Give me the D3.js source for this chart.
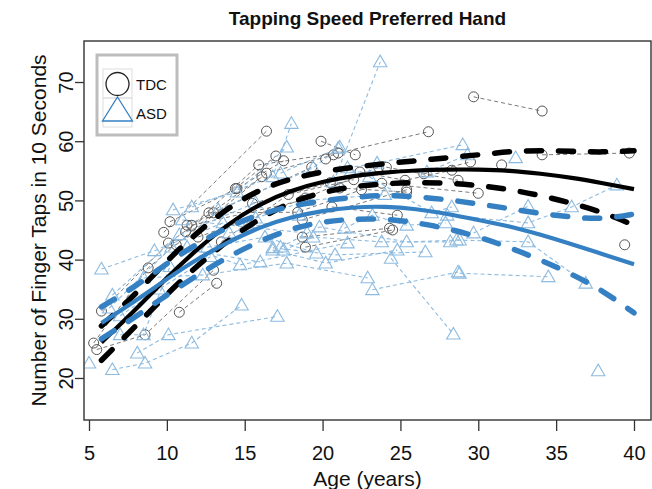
<!DOCTYPE html>
<html><head><meta charset="utf-8">
<script src="https://cdn.jsdelivr.net/npm/d3@7"></script>
<style>
html,body{margin:0;padding:0;background:#fff;}
svg{display:block;font-family:"Liberation Sans",Arial,Helvetica,sans-serif;}
</style></head>
<body><svg id="chart" width="652" height="489"></svg>
<script>
// ---------- DATA ----------
const title = "Tapping Speed Preferred Hand";
const xLabel = "Age (years)";
const yLabel = "Number of Finger Taps in 10 Seconds";
const xTicks = [5, 10, 15, 20, 25, 30, 35, 40];
const yTicks = [20, 30, 40, 50, 60, 70];
const groups = ["TDC", "ASD"];

// individual trajectories: each subject = list of [age, taps]
const tdcSubjects = [
  [[5.3,25.9],[8.8,38.6],[13.0,47.9]],
  [[5.5,24.8],[8.6,27.3],[13.0,38.2]],
  [[5.8,31.3],[10.1,42.8],[16.1,54.0]],
  [[10.8,31.1],[13.2,36.0]],
  [[9.8,44.6],[16.4,61.7]],
  [[10.2,46.4],[14.5,52.0],[17.5,56.7]],
  [[10.6,42.5],[16.4,54.6],[20.7,57.7]],
  [[11.2,44.7],[15.9,56.0],[21.0,58.0],[26.8,61.6]],
  [[11.3,45.8],[19.3,55.6]],
  [[12.0,43.8],[18.9,50.4],[23.6,55.6]],
  [[11.6,45.8],[18.7,50.0]],
  [[12.7,47.9],[18.4,48.0],[22.5,51.8]],
  [[19.9,60.0],[22.1,57.7]],
  [[22.4,54.8],[25.3,53.4],[28.3,55.1]],
  [[24.1,55.6],[28.7,53.4]],
  [[20.6,48.9],[24.8,47.5]],
  [[18.7,43.8],[24.3,45.3]],
  [[18.9,42.1],[24.5,45.0]],
  [[21.1,52.1],[25.4,51.4]],
  [[18.7,46.7],[25.4,51.8]],
  [[23.8,52.9],[30.0,51.2]],
  [[29.7,67.5],[34.1,65.1]],
  [[34.1,57.7],[39.7,58.0]],
  [[31.5,56.0]],
  [[39.4,42.5]],
  [[20.2,57.0]],
  [[14.4,52.0],[17.0,57.5]],
  [[15.5,49.5],[20.5,53.0]],
  [[13.5,43.0],[17.8,51.0],[22.0,53.5]],
  [[26.5,54.5],[29.5,56.5]]
];
const asdSubjects = [
  [[5.0,22.5]],
  [[6.5,21.4],[8.6,22.5],[11.6,25.9],[14.8,32.3]],
  [[8.1,24.2],[10.1,27.3],[17.1,30.4]],
  [[5.8,38.4],[9.2,41.5],[13.6,46.2]],
  [[7.0,27.3],[8.5,27.3],[10.2,38.8]],
  [[6.3,31.8],[10.3,42.1],[16.0,39.6]],
  [[6.5,34.0],[10.8,44.2],[15.7,49.6]],
  [[8.5,36.9],[12.3,37.4],[17.7,39.4],[22.9,36.9]],
  [[10.4,48.4],[14.5,51.4],[17.7,59.0]],
  [[11.6,48.9],[16.8,54.0],[18.0,63.0]],
  [[11.0,46.7],[15.1,45.5],[19.0,44.5]],
  [[13.3,48.4],[19.4,55.5],[21.1,59.0]],
  [[12.6,42.1],[16.3,43.8],[19.6,41.1]],
  [[11.3,42.1],[14.7,39.1],[21.6,42.8]],
  [[16.8,41.6],[20.2,39.4],[24.8,41.6]],
  [[16.8,42.0],[20.8,40.8],[26.6,41.3]],
  [[17.5,41.6],[19.4,43.8],[23.8,43.0],[28.2,43.0]],
  [[17.3,42.1],[19.8,45.5],[25.4,43.0],[28.8,43.3]],
  [[23.2,34.9],[28.7,37.9]],
  [[24.4,40.2],[28.4,27.4]],
  [[20.7,53.1],[23.7,73.4]],
  [[21.4,45.3],[23.2,47.5],[25.4,45.8],[27.9,46.2]],
  [[21.8,54.8],[26.7,54.8],[29.3,57.7]],
  [[23.0,54.0],[27.0,47.9],[28.3,48.9]],
  [[21.6,55.5],[23.5,56.3],[29.0,59.4]],
  [[28.0,47.5],[33.2,46.2],[36.0,48.9],[38.9,52.6]],
  [[29.7,44.5],[33.2,49.0]],
  [[28.6,43.3],[33.2,43.0],[36.9,36.0]],
  [[28.8,37.7],[34.5,37.1]],
  [[32.4,57.2]],
  [[37.7,21.2]],
  [[17.3,54.6],[21.0,58.8]],
  [[15.7,47.0],[19.0,50.0],[24.0,51.0]],
  [[7.0,30.5],[9.5,35.0],[12.8,40.5]],
  [[14.0,44.5],[18.5,47.5]]
];

// fitted curves (age grid, mean and confidence bounds)
const curveAges = [5.8, 8, 10, 12, 14, 16, 18, 20, 22, 24, 26, 28, 30, 32, 34, 36, 38, 40];
const tdcMean  = [26.0, 31.6, 36.9, 41.8, 46.0, 49.3, 51.6, 53.1, 54.1, 54.7, 55.05, 55.2, 55.2, 55.0, 54.5, 53.8, 52.9, 51.9];
const tdcUpper = [28.8, 34.3, 39.7, 44.6, 48.7, 51.7, 53.6, 54.8, 55.6, 56.2, 56.7, 57.2, 57.7, 58.2, 58.4, 58.3, 58.2, 58.4];
const tdcLower = [23.0, 28.8, 34.1, 39.0, 43.3, 46.9, 49.6, 51.3, 52.3, 52.8, 53.0, 52.9, 52.5, 51.8, 50.8, 49.5, 47.9, 45.8];
const asdMean  = [29.3, 33.1, 36.7, 40.1, 43.0, 45.4, 47.1, 48.2, 48.8, 48.9, 48.5, 47.7, 46.7, 45.6, 44.2, 42.6, 40.9, 39.2];
const asdUpper = [32.0, 35.6, 39.3, 42.7, 45.5, 47.6, 49.0, 49.9, 50.5, 50.8, 50.6, 50.1, 49.4, 48.6, 47.8, 47.2, 47.0, 47.7];
const asdLower = [26.6, 30.4, 34.0, 37.4, 40.5, 43.1, 45.1, 46.3, 46.8, 46.8, 46.2, 45.2, 43.8, 42.0, 39.9, 37.5, 34.6, 31.0];

// ---------- CHART ----------
const svg = d3.select("#chart");
const plot = {left: 84, right: 651, top: 41, bottom: 420};
const x = d3.scaleLinear().domain([4.679, 41.092]).range([plot.left, plot.right]);
const y = d3.scaleLinear().domain([13.07, 76.93]).range([419, 41]);

const darkBlue = "#3480c2", lightBlue = "#8dbbe0", circleCol = "#555", grayLine = "#7a7a7a";
const FONT = '"Liberation Sans",Arial,Helvetica,sans-serif';

svg.append("clipPath").attr("id","clip").append("rect")
  .attr("x", plot.left).attr("y", plot.top)
  .attr("width", plot.right - plot.left).attr("height", plot.bottom - plot.top);

const g = svg.append("g").attr("clip-path","url(#clip)");
const line = d3.line().x(d => x(d[0])).y(d => y(d[1]));

// individual trajectories
g.selectAll("path.tdcInd").data(tdcSubjects.filter(s => s.length > 1)).join("path")
  .attr("d", line).attr("fill","none").attr("stroke", grayLine)
  .attr("stroke-width", 1).attr("stroke-dasharray","4,3");
g.selectAll("path.asdInd").data(asdSubjects.filter(s => s.length > 1)).join("path")
  .attr("d", line).attr("fill","none").attr("stroke", lightBlue)
  .attr("stroke-width", 1.1).attr("stroke-dasharray","4,3");

// points
g.selectAll("circle.tdc").data(tdcSubjects.flat()).join("circle")
  .attr("cx", d => x(d[0])).attr("cy", d => y(d[1])).attr("r", 5)
  .attr("fill","none").attr("stroke", circleCol).attr("stroke-width", 1);
const tri = d3.symbol().type(d3.symbolTriangle).size(78);
g.selectAll("path.asd").data(asdSubjects.flat()).join("path")
  .attr("d", tri).attr("transform", d => `translate(${x(d[0])},${y(d[1])+1})`)
  .attr("fill","none").attr("stroke", lightBlue).attr("stroke-width", 1.1);

// fitted curves
const curveLine = d3.line().x(d => x(d[0])).y(d => y(d[1])).curve(d3.curveNatural);
function drawCurve(vals, color, dashed) {
  const pts = curveAges.map((a, i) => [a, vals[i]]);
  g.append("path").attr("d", curveLine(pts)).attr("fill","none")
    .attr("stroke", color)
    .attr("stroke-width", dashed ? 5.5 : 4.2)
    .attr("stroke-linecap", dashed ? "round" : "butt")
    .attr("stroke-dasharray", dashed ? "15,17" : null);
}
drawCurve(tdcUpper, "#000", true);
drawCurve(tdcLower, "#000", true);
drawCurve(tdcMean, "#000", false);
drawCurve(asdUpper, darkBlue, true);
drawCurve(asdLower, darkBlue, true);
drawCurve(asdMean, darkBlue, false);

// frame
svg.append("rect").attr("x", plot.left).attr("y", plot.top)
  .attr("width", plot.right - plot.left).attr("height", plot.bottom - plot.top)
  .attr("fill","none").attr("stroke","#333").attr("stroke-width",1.4);

// axes
const xAxis = svg.append("g").attr("transform", `translate(0,${plot.bottom})`)
  .call(d3.axisBottom(x).tickValues(xTicks).tickSize(11).tickPadding(8).tickFormat(d3.format("d")));
xAxis.select(".domain").remove();
xAxis.selectAll("line").attr("stroke","#333").attr("stroke-width",1.3);
xAxis.selectAll("text").attr("font-size", 20).attr("fill","#111")
  .attr("font-family", FONT).attr("y", null).attr("dy", null)
  .attr("transform", "translate(0,40)");

const yAxis = svg.append("g").attr("transform", `translate(${plot.left},0)`)
  .call(d3.axisLeft(y).tickValues(yTicks).tickSize(9).tickFormat(d3.format("d")));
yAxis.select(".domain").remove();
yAxis.selectAll("line").attr("stroke","#333").attr("stroke-width",1.3);
yAxis.selectAll("text")
  .attr("font-size", 20).attr("fill","#111")
  .attr("font-family", FONT)
  .attr("x", null).attr("dy", null)
  .attr("text-anchor","middle")
  .attr("transform", "translate(-11,0) rotate(-90)");

// titles
svg.append("text").attr("x", (plot.left + plot.right)/2).attr("y", 25)
  .attr("text-anchor","middle").attr("font-size", 19).attr("font-weight","bold")
  .attr("fill","#111").text(title);
svg.append("text").attr("x", (plot.left + plot.right)/2).attr("y", 486)
  .attr("text-anchor","middle").attr("font-size", 21).attr("fill","#111").text(xLabel);
svg.append("text").attr("transform", `translate(46,${(plot.top+plot.bottom)/2}) rotate(-90)`)
  .attr("text-anchor","middle").attr("font-size", 21).attr("fill","#111").text(yLabel);

// legend
const lg = svg.append("g");
lg.append("rect").attr("x", 97).attr("y", 55).attr("width", 80).attr("height", 80)
  .attr("fill","#fff").attr("stroke","#bdbdbd").attr("stroke-width", 3);
lg.append("rect").attr("x", 103).attr("y", 69).attr("width", 29).attr("height", 29)
  .attr("fill","none").attr("stroke","#ddd").attr("stroke-width", 1);
lg.append("rect").attr("x", 103).attr("y", 98).attr("width", 29).attr("height", 29)
  .attr("fill","none").attr("stroke","#ddd").attr("stroke-width", 1);
lg.append("circle").attr("cx", 117.5).attr("cy", 84).attr("r", 11.5)
  .attr("fill","none").attr("stroke","#222").attr("stroke-width", 1.3);
lg.append("path").attr("d", `M117.5,97 L132.5,121 L102.5,121 Z`)
  .attr("fill","none").attr("stroke", darkBlue).attr("stroke-width", 1.3);
lg.selectAll("text.leg").data(groups).join("text")
  .attr("x", 136).attr("y", (d, i) => 90 + i * 29)
  .attr("font-size", 15).attr("fill","#111").text(d => d);
</script>
</body></html>
